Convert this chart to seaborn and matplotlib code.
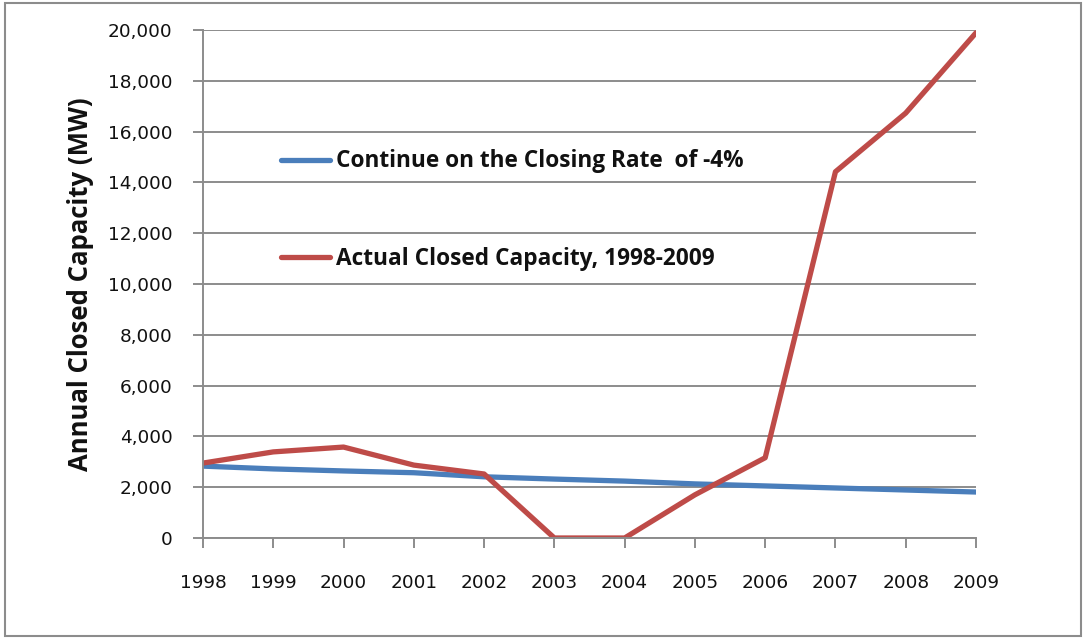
import matplotlib
matplotlib.use("Agg")
import matplotlib.pyplot as plt
from matplotlib.patches import Rectangle
import seaborn as sns
import pandas as pd

years = [1998, 1999, 2000, 2001, 2002, 2003, 2004, 2005, 2006, 2007, 2008, 2009]
trend_mw = [2830, 2720, 2640, 2570, 2410, 2320, 2240, 2130, 2050, 1970, 1890, 1810]
actual_mw = [2950, 3390, 3580, 2870, 2520, 0, 0, 1700, 3160, 14420, 16730, 19890]
series_names = ["Continue on the Closing Rate  of -4%", "Actual Closed Capacity, 1998-2009"]
series_colors = ["#4a7ebb", "#be4b48"]
y_ticks = list(range(0, 20001, 2000))

df = pd.concat([
    pd.DataFrame({"Year": years, "MW": trend_mw, "Series": series_names[0]}),
    pd.DataFrame({"Year": years, "MW": actual_mw, "Series": series_names[1]}),
])

sns.set_theme(style="white")
plt.rcParams["font.family"] = ["DejaVu Sans"]
bold_font = ["Open Sans", "DejaVu Sans"]

fig = plt.figure(figsize=(10.84, 6.38), dpi=100)
ax = fig.add_axes([203 / 1084, 1 - 538 / 638, (976 - 203) / 1084, (538 - 30) / 638])

sns.lineplot(data=df, x="Year", y="MW", hue="Series", palette=series_colors,
             linewidth=3.8, ax=ax, legend=False)

ax.set_xlim(years[0], years[-1])
ax.set_ylim(0, 20000)
ax.set_xticks(years)
ax.set_xticklabels([str(y) for y in years], fontsize=13.3, color="#111111")
ax.set_yticks(y_ticks)
ax.set_yticklabels([f"{v:,}" for v in y_ticks], fontsize=13.3, color="#111111")
ax.grid(axis="y", color="#8c8c8c", linewidth=1.4)
ax.set_axisbelow(True)
ax.tick_params(axis="x", direction="out", length=7, width=1.4, color="#8c8c8c", pad=19, bottom=True)
ax.tick_params(axis="y", direction="out", length=7, width=1.4, color="#8c8c8c", pad=15, left=True)
for side in ["top", "right"]:
    ax.spines[side].set_visible(False)
for side in ["left", "bottom"]:
    ax.spines[side].set_color("#8c8c8c")
    ax.spines[side].set_linewidth(1.4)

ax.set_xlabel("")
ax.set_ylabel("Annual Closed Capacity (MW)", fontsize=18.5, fontweight="bold",
              family=bold_font, labelpad=10, color="#111111")

handles = [plt.Line2D([], [], color=c, linewidth=3.8, solid_capstyle="round") for c in series_colors]
leg = ax.legend(handles, series_names, loc="upper left", bbox_to_anchor=(0.074, 0.805),
                frameon=False, handlelength=2.2, handletextpad=0.25, labelspacing=3.25,
                prop={"family": bold_font, "weight": "bold", "size": 16.3})
for t in leg.get_texts():
    t.set_color("#111111")

fig.patches.append(Rectangle((5 / 1084, 1 - 636 / 638), 1076 / 1084, 633 / 638,
                             transform=fig.transFigure, fill=False,
                             edgecolor="#8c8c8c", linewidth=1.5))

fig.savefig("out.png", dpi=100)
